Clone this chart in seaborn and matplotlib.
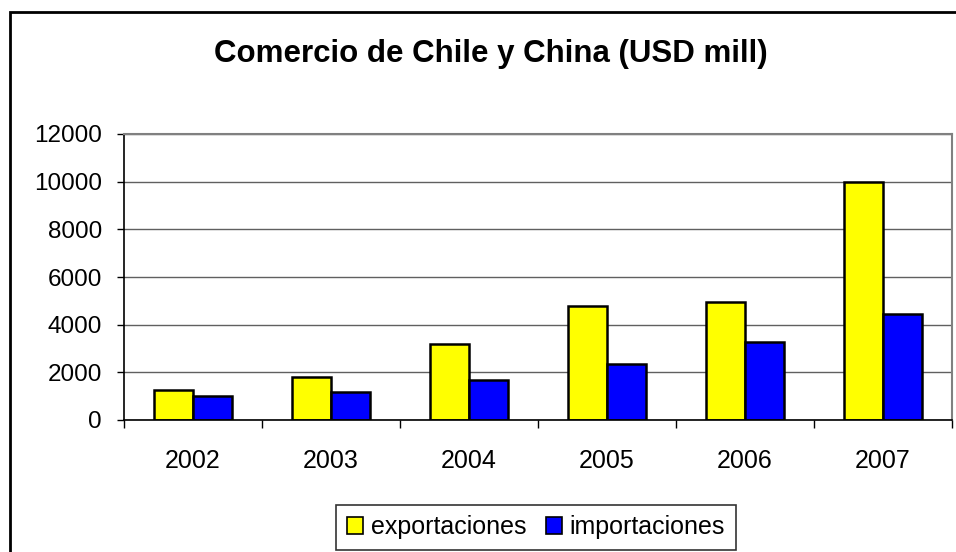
import matplotlib
matplotlib.use("Agg")
import matplotlib.pyplot as plt
import seaborn as sns
import pandas as pd
from matplotlib.patches import Rectangle, Patch

years = ["2002", "2003", "2004", "2005", "2006", "2007"]
exportaciones = [1250, 1820, 3200, 4790, 4950, 10000]
importaciones = [1000, 1170, 1680, 2330, 3260, 4450]
series_names = ["exportaciones", "importaciones"]
colors = ["#FFFF00", "#0000FF"]
y_ticks = [0, 2000, 4000, 6000, 8000, 10000, 12000]
title = "Comercio de Chile y China (USD mill)"

df = pd.DataFrame({
    "year": years * 2,
    "value": exportaciones + importaciones,
    "serie": [series_names[0]] * len(years) + [series_names[1]] * len(years),
})

sns.set_style("white")
plt.rcParams["font.family"] = ["Liberation Sans", "DejaVu Sans"]
plt.rcParams["text.color"] = "black"
plt.rcParams["xtick.color"] = "black"
plt.rcParams["ytick.color"] = "black"
plt.rcParams["axes.labelcolor"] = "black"

W, H = 956, 552
fig = plt.figure(figsize=(W / 100, H / 100), dpi=100)
ax = fig.add_axes([124 / W, 1 - 420 / H, (952 - 124) / W, (420 - 134) / H])

sns.barplot(data=df, x="year", y="value", hue="serie", order=years,
            hue_order=series_names, palette=colors, edgecolor="black",
            linewidth=1.8, width=0.565, ax=ax, legend=False, saturation=1)

ax.set_ylim(0, 12000)
ax.set_xlim(-0.5, len(years) - 0.5)
ax.set_yticks(y_ticks)
ax.set_yticklabels([str(v) for v in y_ticks], fontsize=17.5)
ax.yaxis.grid(True, color="#606060", linewidth=1)
ax.set_axisbelow(True)
ax.tick_params(axis="y", length=5, width=1, color="black", pad=11, left=True)

# category boundary ticks (major) and centered labels (minor)
ax.set_xticks([i - 0.5 for i in range(len(years) + 1)])
ax.set_xticklabels([])
ax.set_xticks(range(len(years)), minor=True)
ax.set_xticklabels(years, minor=True, fontsize=18)
ax.tick_params(axis="x", which="major", length=6, width=1, color="black", bottom=True)
ax.tick_params(axis="x", which="minor", length=0, pad=21)

ax.set_xlabel("")
ax.set_ylabel("")
for s in ["left", "bottom"]:
    ax.spines[s].set_color("black")
    ax.spines[s].set_linewidth(1.2)
for s in ["top", "right"]:
    ax.spines[s].set_color("#808080")
    ax.spines[s].set_linewidth(1.5)

fig.text(491 / W, 1 - 54 / H, title, ha="center", va="center",
         fontsize=22.5, fontweight="bold", color="black")

handles = [Patch(facecolor=c, edgecolor="black", linewidth=1.2) for c in colors]
leg = fig.legend(handles, series_names, loc="center",
                 bbox_to_anchor=(536 / W, 1 - 527 / H), ncol=2,
                 fontsize=18, frameon=True, fancybox=False,
                 handlelength=0.65, handleheight=0.65, handletextpad=0.3,
                 columnspacing=0.8, borderpad=0.42, borderaxespad=0)
leg.get_frame().set_edgecolor("black")
leg.get_frame().set_linewidth(1.2)

fig.patches.append(Rectangle((10 / W, -0.1), 1.5, 1 - 12 / H + 0.1,
                             transform=fig.transFigure, fill=False,
                             edgecolor="black", linewidth=2))

fig.savefig("out.png", dpi=100)
